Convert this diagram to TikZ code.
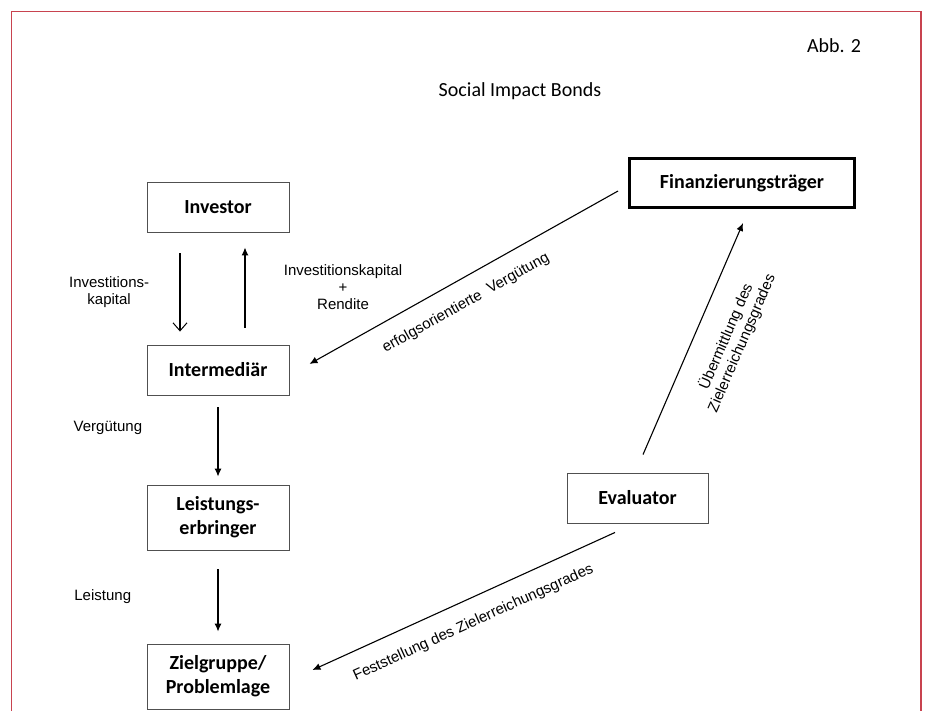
\documentclass[tikz,border=0pt]{standalone}
\usepackage{fontspec}
\setmainfont{Carlito}
\newfontfamily\arialfont{Liberation Sans}
\usepackage{tikz}
\usetikzlibrary{arrows.meta,shapes.misc,positioning}
\definecolor{framered}{HTML}{C8434F}
\definecolor{boxgrey}{HTML}{505050}

\begin{document}
\begin{tikzpicture}[->, >={Latex[length=8pt,width=7pt]}, x=1pt, y=1pt, line width=1.1pt,
  box/.style={draw=boxgrey, line width=0.9pt, minimum width=142pt, minimum height=50pt, inner sep=2pt, align=center, font=\bfseries\fontsize{20}{24}\selectfont},
  tallbox/.style={box, minimum height=65pt},
  lbl/.style={font=\arialfont\fontsize{15}{17}\selectfont, align=center, text=black}]
%
\useasboundingbox (0,0) rectangle (925,-710);
\draw[-, draw=framered, line width=1.8pt] (11.5,-712) -- (11.5,-11.5) -- (921,-11.5) -- (921,-712);
%
\node (abb) at (834,-46) {\fontsize{20}{24}\selectfont Abb. 2};
\node (title) at (520,-91) {\fontsize{20}{24}\selectfont Social Impact Bonds};
%
\node (Inv) [box] at (218,-207) {Investor};
\node (Inter) [box, below of=Inv, node distance=163pt] {Intermediär};
\node (Leist) [tallbox, below of=Inter, node distance=147.5pt] {Leistungs-\\erbringer};
\node (Ziel) [tallbox, below of=Leist, node distance=159pt] {Zielgruppe/\\Problemlage};
\node (Finanz) [box, draw=black, line width=3pt, minimum width=225pt, minimum height=49pt] at (742,-183) {Finanzierungsträger};
\node (Eval) [box, minimum width=141pt] at (637.5,-498) {Evaluator};
%
\path[-{Straight Barb[length=8pt,width=14pt,line width=1pt]}] ([xshift=-38pt,yshift=-21pt]Inv.south) edge node[lbl, left=27pt] {Investitions-\\kapital} ([xshift=-38pt,yshift=13pt]Inter.north);
\path ([xshift=27pt,yshift=17pt]Inter.north) edge node[lbl, right=35pt] {Investitionskapital\\+\\Rendite} ([xshift=27pt,yshift=-15pt]Inv.south);
\path (Inter) edge[shorten <=12pt, shorten >=8pt] node[lbl, left=72pt, pos=0.36] {Vergütung} (Leist);
\path (Leist) edge[shorten <=19pt, shorten >=12pt] node[lbl, left=83pt] {Leistung} (Ziel);
%
\path ([xshift=-10pt,yshift=-8pt]Finanz.west) edge node[lbl, sloped, below, pos=0.53, inner sep=16pt] {erfolgsorientierte\ \ Vergütung} ([xshift=20pt,yshift=6pt]Inter.east);
\path ([xshift=5.5pt,yshift=18pt]Eval.north) edge node[lbl, sloped, below, pos=0.56, inner sep=21pt] {Übermittlung des\\Zielerreichungsgrades} ([xshift=1pt,yshift=-14pt]Finanz.south);
\path ([xshift=-22.5pt,yshift=-9pt]Eval.south) edge node[lbl, sloped, below, pos=0.5, inner sep=16pt] {Feststellung des Zielerreichungsgrades} ([xshift=23pt,yshift=6.5pt]Ziel.east);
\end{tikzpicture}
\end{document}
